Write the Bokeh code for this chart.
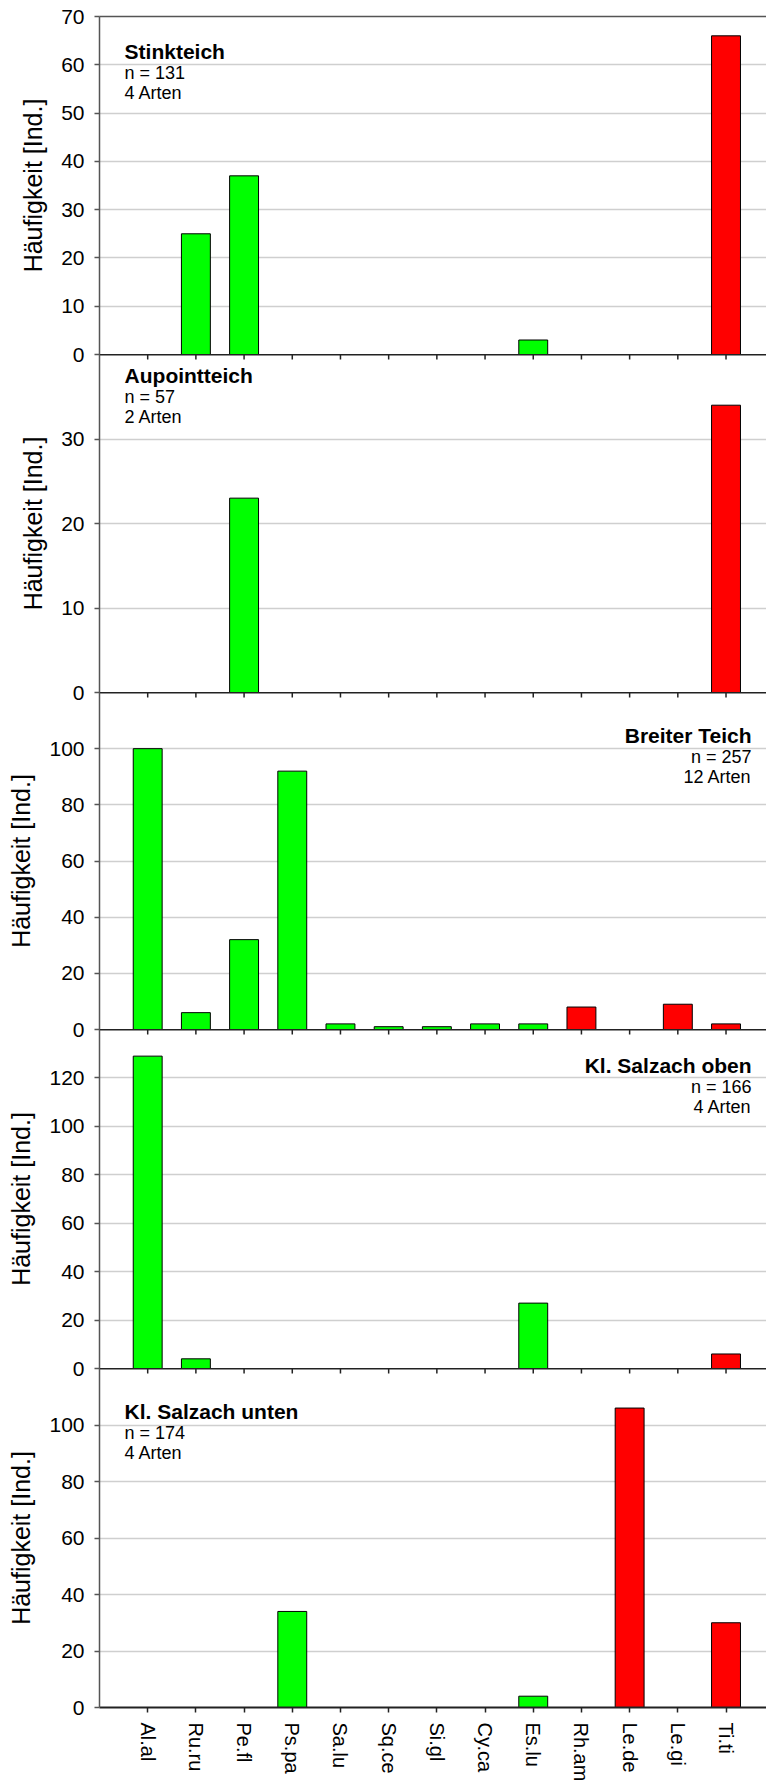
import math

from bokeh.plotting import figure
from bokeh.layouts import column
from bokeh.models import ColumnDataSource, FixedTicker, LinearAxis, Label, Range1d
from bokeh.embed import file_html
from bokeh.resources import INLINE

# Species codes (x axis) and their group: "A" = green bars, "B" = red bars
species = ["Al.al", "Ru.ru", "Pe.fl", "Ps.pa", "Sa.lu", "Sq.ce", "Si.gl",
           "Cy.ca", "Es.lu", "Rh.am", "Le.de", "Le.gi", "Ti.ti"]
group = ["A", "A", "A", "A", "A", "A", "A", "A", "A", "B", "B", "B", "B"]

# Individuals caught per species and site
stinkteich = [0, 25, 37, 0, 0, 0, 0, 0, 3, 0, 0, 0, 66]
aupointteich = [0, 0, 23, 0, 0, 0, 0, 0, 0, 0, 0, 0, 34]
breiter_teich = [100, 6, 32, 92, 2, 1, 1, 2, 2, 8, 0, 9, 2]
salzach_oben = [129, 4, 0, 0, 0, 0, 0, 0, 27, 0, 0, 0, 6]
salzach_unten = [0, 0, 0, 34, 0, 0, 0, 0, 4, 0, 106, 0, 30]

site_names = ["Stinkteich", "Aupointteich", "Breiter Teich",
              "Kl. Salzach oben", "Kl. Salzach unten"]
site_values = [stinkteich, aupointteich, breiter_teich, salzach_oben, salzach_unten]

# y axis extent and tick step per panel
y_max = [70, 40, 120, 140, 120]
y_step = [10, 10, 20, 20, 20]
y_labelled_top = [70, 30, 100, 120, 100]

# panel geometry / annotation placement
FRAME_W = 667
frame_heights = [338, 338, 337, 339, 339]
title_offsets = [35, 21, 43, 36, 43]
title_align = ["left", "left", "right", "right", "left"]
OVERLAP = 14   # room below each panel for its "0" label, shared with the next panel

FONT = "Liberation Sans"
GROUP_COLORS = {"A": "#00ff00", "B": "#ff0000"}
AXIS_GREY = "#555555"
ZERO_LINE = "#222222"

idx = list(range(len(species)))
label_map = {i: s for i, s in enumerate(species)}

figs = []
n_panels = len(site_names)
for k in range(n_panels):
    first = k == 0
    last = k == n_panels - 1
    vals = site_values[k]

    p = figure(frame_width=FRAME_W, frame_height=frame_heights[k],
               x_range=Range1d(-1, 12.84), y_range=Range1d(0, y_max[k]),
               x_axis_location="below" if last else None,
               min_border_left=99, min_border_right=0,
               min_border_top=16 if first else 0,
               min_border_bottom=77 if last else OVERLAP,
               output_backend="svg", toolbar_location=None)
    if not first:
        p.margin = (-OVERLAP, 0, 0, 0)
    p.outline_line_color = None
    p.background_fill_alpha = 0
    p.border_fill_alpha = 0
    for g in p.xgrid:
        g.visible = False

    # bottom category axis (last panel only)
    if last:
        xax = p.below[0]
        xax.ticker = FixedTicker(ticks=idx)
        xax.major_label_overrides = label_map
        xax.major_label_orientation = "vertical"
        xax.major_label_text_font = FONT
        xax.major_label_text_font_size = "20px"
        xax.major_label_text_color = "black"
        xax.major_label_standoff = 10
        xax.major_tick_out = 5
        xax.major_tick_in = 0
        xax.minor_tick_out = 0
        xax.minor_tick_in = 0
        xax.axis_line_color = ZERO_LINE
        xax.axis_line_width = 2
        xax.major_tick_line_color = ZERO_LINE
        xax.major_tick_line_width = 1.5

    # y axis
    ticks = list(range(0, y_labelled_top[k] + 1, y_step[k]))
    yax = p.yaxis[0]
    yax.ticker = FixedTicker(ticks=ticks)
    yax.axis_label = "Häufigkeit [Ind.]"
    yax.axis_label_text_font = FONT
    yax.axis_label_text_font_size = "25px"
    yax.axis_label_text_font_style = "normal"
    yax.axis_label_text_color = "black"
    yax.axis_label_standoff = 11
    yax.major_label_text_font = FONT
    yax.major_label_text_font_size = "21px"
    yax.major_label_text_color = "black"
    yax.major_label_standoff = 10
    yax.major_tick_out = 5
    yax.major_tick_in = 0
    yax.minor_tick_out = 0
    yax.minor_tick_in = 0
    yax.axis_line_color = AXIS_GREY
    yax.axis_line_width = 1.5
    yax.major_tick_line_color = AXIS_GREY
    yax.major_tick_line_width = 1.5

    for g in p.ygrid:
        g.ticker = FixedTicker(ticks=list(range(0, y_max[k] + 1, y_step[k])))
        g.grid_line_color = "#cfcfcf"
        g.grid_line_width = 1.3

    # bars (zero counts are not drawn)
    keep = [i for i in idx if vals[i] > 0]
    src = ColumnDataSource(dict(
        x=keep,
        top=[vals[i] for i in keep],
        color=[GROUP_COLORS[group[i]] for i in keep],
    ))
    p.vbar(x="x", top="top", width=0.6, source=src,
           fill_color="color", line_color="black", line_width=1)

    # top edge: plain frame line on the first panel, the previous panel's
    # zero line (with its category ticks hanging into this panel) on the others
    top_ax = LinearAxis(ticker=FixedTicker(ticks=[]),
                        major_tick_out=0, major_tick_in=0,
                        minor_tick_out=0, minor_tick_in=0,
                        major_label_standoff=0,
                        axis_line_color=AXIS_GREY if first else ZERO_LINE,
                        axis_line_width=1.5 if first else 2)
    p.add_layout(top_ax, "above")
    if not first:
        p.scatter(x=idx, y=[y_max[k]] * len(idx), marker="dash",
                  angle=math.pi / 2, size=10,
                  line_color=ZERO_LINE, line_width=1.5)

    # site annotation
    n_total = sum(vals)
    n_species = sum(1 for v in vals if v > 0)
    if title_align[k] == "left":
        ax_x, al = -0.48, "left"
    else:
        ax_x, al = 12.53, "right"
    lines = [(site_names[k], "21px", "bold", 0),
             (f"n = {n_total}", "18px", "normal", 21),
             (f"{n_species} Arten", "18px", "normal", 41)]
    for text, size, style, dy in lines:
        p.add_layout(Label(x=ax_x, y=y_max[k], y_offset=-(title_offsets[k] + dy),
                           text=text, text_font=FONT, text_font_size=size,
                           text_font_style=style, text_color="black",
                           text_align=al, text_baseline="alphabetic"))

    figs.append(p)

layout = column(*figs, spacing=0)
open("out.html", "w").write(file_html(layout, INLINE))
